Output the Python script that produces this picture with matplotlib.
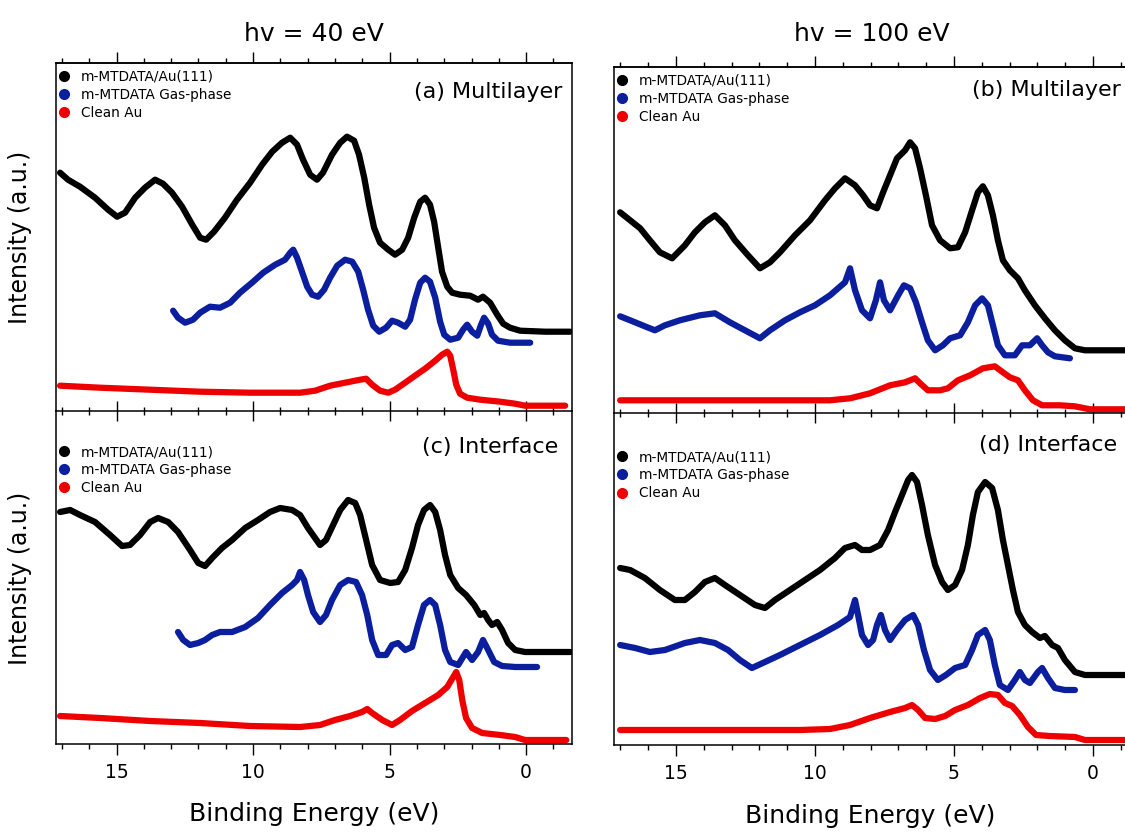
import matplotlib
matplotlib.use("Agg")
import matplotlib.pyplot as plt
from matplotlib.lines import Line2D
from matplotlib.ticker import MultipleLocator, NullFormatter

plt.rcParams['font.family'] = ['DejaVu Sans']

# ---------------- data (binding energy in eV, intensity in a.u.) ----------------
# (a) hv = 40 eV, multilayer
a_film_E = [17.07, 16.78, 16.34, 15.79, 15.31, 14.98, 14.69, 14.32, 13.96, 13.59, 13.30, 12.97, 12.60, 12.23,
            11.94, 11.72, 11.43, 11.03, 10.59, 10.11, 9.67, 9.30, 8.94, 8.64, 8.39, 8.17, 7.91, 7.66, 7.44,
            7.11, 6.81, 6.56, 6.30, 6.12, 5.93, 5.75, 5.57, 5.35, 5.05, 4.80, 4.54, 4.32, 4.10, 3.88, 3.70,
            3.52, 3.37, 3.22, 3.08, 2.89, 2.71, 2.42, 2.05, 1.76, 1.58, 1.32, 1.06, 0.84, 0.59, 0.22, -0.70, -1.61]
a_film_I = [238, 231, 224, 213, 201, 194, 198, 213, 223, 231, 227, 218, 204, 186,
            173, 171, 179, 193, 211, 228, 246, 259, 268, 273, 266, 251, 236, 231, 238,
            256, 268, 274, 270, 256, 233, 206, 183, 168, 161, 156, 161, 173, 193, 209, 213,
            206, 189, 163, 139, 124, 118, 116, 115, 111, 114, 108, 96, 87, 83, 80, 79, 79]
a_gas_E = [12.93, 12.75, 12.49, 12.20, 11.94, 11.58, 11.21, 10.84, 10.48, 10.04, 9.63, 9.19, 8.83, 8.64, 8.53,
           8.39, 8.21, 8.02, 7.84, 7.62, 7.40, 7.18, 6.92, 6.63, 6.37, 6.15, 5.97, 5.79, 5.60, 5.38, 5.13,
           4.91, 4.69, 4.43, 4.25, 4.07, 3.88, 3.70, 3.52, 3.33, 3.15, 3.00, 2.78, 2.49, 2.31, 2.16, 1.98,
           1.79, 1.65, 1.54, 1.39, 1.25, 1.03, 0.59, -0.15]
a_gas_I = [100, 93, 88, 91, 98, 104, 103, 108, 118, 128, 138, 146, 151, 158, 161,
           153, 139, 124, 116, 114, 121, 133, 145, 151, 149, 139, 121, 101, 85, 79, 83,
           90, 88, 84, 91, 111, 128, 133, 129, 113, 89, 76, 71, 73, 81, 86, 79,
           75, 86, 93, 87, 76, 70, 68, 68]
a_au_E = [17.07, 15.60, 13.77, 11.94, 10.11, 8.28, 7.73, 7.18, 6.63, 6.08, 5.86, 5.64, 5.35, 5.05, 4.80,
          4.43, 4.07, 3.70, 3.33, 3.08, 2.89, 2.78, 2.67, 2.56, 2.42, 2.16, 1.68, 0.95, 0.40, 0.04, -1.43]
a_au_I = [25, 23, 21, 19, 18, 18, 20, 25, 28, 31, 32, 26, 20, 18, 21,
          28, 35, 42, 50, 56, 59, 55, 41, 26, 17, 13, 11, 9, 7, 5, 5]

# (b) hv = 100 eV, multilayer
b_film_E = [17.01, 16.65, 16.29, 15.94, 15.58, 15.14, 14.68, 14.32, 13.96, 13.60, 13.24, 12.88, 12.41, 11.98,
            11.62, 11.26, 10.72, 10.18, 9.64, 9.28, 8.92, 8.56, 8.27, 8.02, 7.77, 7.55, 7.30, 7.05, 6.76,
            6.58, 6.40, 6.22, 6.01, 5.79, 5.50, 5.14, 4.86, 4.60, 4.35, 4.14, 3.96, 3.78, 3.60, 3.42, 3.24,
            2.99, 2.70, 2.45, 2.09, 1.73, 1.37, 1.01, 0.65, 0.29, -1.45]
b_film_I = [201, 193, 185, 173, 161, 155, 168, 181, 191, 198, 188, 173, 158, 145,
            151, 161, 178, 193, 213, 225, 235, 228, 218, 208, 205, 221, 238, 255, 263,
            271, 265, 245, 218, 188, 173, 165, 166, 181, 203, 221, 227, 218, 198, 173, 153,
            143, 135, 123, 108, 95, 83, 73, 65, 63, 63]
b_gas_E = [17.01, 16.65, 16.12, 15.76, 15.40, 14.86, 14.14, 13.60, 13.06, 12.52, 11.98, 11.62, 11.08, 10.54,
           10.00, 9.46, 8.92, 8.74, 8.56, 8.31, 8.02, 7.81, 7.66, 7.52, 7.30, 7.01, 6.80, 6.58, 6.37,
           6.15, 5.94, 5.68, 5.40, 5.14, 4.78, 4.50, 4.24, 3.99, 3.78, 3.60, 3.42, 3.17, 2.81, 2.55,
           2.27, 2.01, 1.83, 1.62, 1.37, 0.83]
b_gas_I = [97, 93, 87, 83, 88, 93, 98, 100, 91, 83, 75, 83, 93, 101,
           108, 118, 131, 145, 123, 103, 95, 113, 131, 113, 103, 118, 128, 125, 111,
           91, 73, 63, 68, 75, 78, 91, 108, 115, 108, 88, 68, 58, 58, 68,
           68, 75, 68, 61, 57, 55]
b_au_E = [17.01, 14.14, 10.54, 9.46, 8.74, 8.02, 7.30, 6.76, 6.40, 6.22, 5.94, 5.50, 5.22, 4.86, 4.42,
          3.96, 3.53, 3.24, 2.99, 2.70, 2.45, 2.16, 1.83, 1.19, 0.65, 0.11, -1.45]
b_au_I = [13, 13, 13, 13, 15, 20, 28, 31, 35, 30, 23, 23, 25, 33, 38,
          45, 47, 41, 36, 33, 23, 13, 8, 8, 7, 4, 4]

# (c) hv = 40 eV, interface
c_film_E = [17.07, 16.70, 16.34, 15.79, 15.24, 14.80, 14.51, 14.14, 13.77, 13.48, 13.11, 12.75, 12.31, 12.01,
            11.76, 11.50, 11.14, 10.77, 10.29, 9.82, 9.38, 9.01, 8.57, 8.28, 7.99, 7.73, 7.55, 7.33, 7.07,
            6.81, 6.52, 6.26, 6.08, 5.86, 5.64, 5.35, 4.98, 4.69, 4.43, 4.18, 3.96, 3.74, 3.52, 3.33, 3.15,
            2.97, 2.78, 2.49, 2.20, 1.90, 1.68, 1.54, 1.39, 1.25, 1.06, 0.88, 0.66, 0.40, 0.04, -0.70, -1.61]
c_film_I = [232, 234, 229, 222, 209, 198, 199, 209, 222, 226, 222, 212, 194, 181,
            178, 186, 196, 204, 216, 224, 232, 236, 234, 229, 216, 206, 199, 204, 219,
            234, 244, 241, 229, 204, 179, 164, 161, 162, 174, 196, 219, 234, 239, 232, 214,
            189, 169, 156, 149, 139, 129, 131, 124, 119, 122, 114, 101, 94, 92, 92, 92]
c_gas_E = [12.75, 12.56, 12.31, 12.01, 11.76, 11.50, 11.21, 10.77, 10.29, 9.82, 9.38, 8.94, 8.57, 8.39, 8.28,
           8.13, 7.99, 7.80, 7.55, 7.33, 7.11, 6.81, 6.52, 6.23, 6.01, 5.82, 5.64, 5.42, 5.13, 4.91, 4.69,
           4.43, 4.18, 3.96, 3.74, 3.52, 3.33, 3.15, 2.97, 2.78, 2.49, 2.20, 1.98, 1.76, 1.58, 1.39, 1.17,
           0.88, 0.40, -0.40]
c_gas_I = [112, 104, 99, 101, 104, 109, 112, 112, 117, 126, 139, 151, 159, 164, 172,
           164, 149, 132, 122, 129, 144, 159, 164, 162, 149, 129, 104, 89, 89, 99, 101,
           94, 97, 119, 139, 144, 139, 119, 94, 82, 79, 92, 84, 92, 104, 94, 82,
           78, 77, 77]
c_au_E = [17.07, 15.60, 13.77, 11.94, 10.11, 8.28, 7.55, 7.00, 6.45, 6.01, 5.82, 5.64, 5.27, 4.91, 4.62,
          4.18, 3.70, 3.22, 2.89, 2.67, 2.56, 2.45, 2.34, 2.20, 1.98, 1.61, 0.95, 0.40, 0.04, -1.47]
c_au_I = [28, 26, 23, 21, 18, 17, 19, 24, 28, 32, 35, 31, 24, 19, 24,
          33, 41, 49, 57, 67, 72, 64, 44, 26, 16, 11, 9, 7, 4, 4]

# (d) hv = 100 eV, interface
d_film_E = [17.01, 16.65, 16.12, 15.58, 15.04, 14.68, 14.32, 13.96, 13.60, 13.24, 12.70, 12.16, 11.80, 11.44,
            10.90, 10.36, 9.82, 9.28, 8.92, 8.56, 8.31, 8.02, 7.66, 7.37, 7.12, 6.87, 6.65, 6.51, 6.33,
            6.15, 5.94, 5.68, 5.43, 5.22, 4.96, 4.71, 4.50, 4.32, 4.14, 3.88, 3.63, 3.42, 3.24, 3.06, 2.88,
            2.70, 2.45, 2.19, 1.91, 1.73, 1.47, 1.26, 1.01, 0.65, 0.29, -1.45]
d_film_I = [177, 175, 167, 155, 145, 145, 153, 163, 167, 160, 150, 140, 137, 145,
            155, 165, 175, 187, 197, 200, 195, 195, 200, 215, 233, 250, 265, 270, 263,
            240, 210, 180, 163, 155, 160, 175, 200, 230, 253, 263, 257, 235, 205, 180, 155,
            133, 120, 113, 107, 109, 100, 97, 85, 73, 70, 70]
d_gas_E = [17.01, 16.47, 15.94, 15.40, 14.68, 14.14, 13.60, 13.13, 12.70, 12.27, 11.80, 11.26, 10.54, 9.82,
           9.17, 8.74, 8.56, 8.45, 8.31, 8.09, 7.91, 7.77, 7.63, 7.48, 7.30, 7.05, 6.76, 6.47, 6.29,
           6.08, 5.86, 5.58, 5.29, 4.96, 4.60, 4.35, 4.14, 3.88, 3.71, 3.53, 3.35, 3.06, 2.81, 2.63,
           2.45, 2.27, 1.98, 1.83, 1.62, 1.37, 1.01, 0.65]
d_gas_I = [100, 97, 93, 95, 102, 105, 102, 95, 85, 77, 83, 90, 100, 110,
           120, 128, 145, 130, 110, 100, 105, 120, 130, 115, 105, 115, 125, 130, 120,
           95, 75, 65, 70, 77, 80, 95, 110, 115, 105, 80, 60, 55, 65, 73,
           65, 62, 73, 77, 67, 57, 55, 55]
d_au_E = [17.01, 14.14, 10.54, 9.46, 8.74, 8.02, 7.30, 6.76, 6.51, 6.29, 6.04, 5.68, 5.32, 4.96, 4.50,
          4.06, 3.71, 3.42, 3.17, 2.91, 2.63, 2.34, 2.05, 1.55, 0.65, 0.29, -1.45]
d_au_I = [15, 15, 15, 16, 20, 27, 33, 37, 40, 35, 27, 26, 29, 35, 40,
          47, 51, 50, 42, 39, 30, 18, 10, 9, 8, 5, 5]

series_labels = ["m-MTDATA/Au(111)", "m-MTDATA Gas-phase", "Clean Au"]
panel_titles = ["(a) Multilayer", "(b) Multilayer", "(c) Interface", "(d) Interface"]
column_titles = ["hv = 40 eV", "hv = 100 eV"]
x_label = "Binding Energy (eV)"
y_label = "Intensity (a.u.)"
energy_range = (17.23, -1.68)

COLORS = ["#000000", "#0A1E9E", "#EE0000"]

# ---------------- figure ----------------
W, H = 1125, 834
fig = plt.figure(figsize=(W / 100, H / 100), dpi=100)
fig.patch.set_facecolor("white")


def box(l, t, r, b):
    return [l / W, 1 - b / H, (r - l) / W, (b - t) / H]


panels = [
    dict(rect=box(55.7, 63, 572, 410.7), ytop=347.7, data=[(a_film_E, a_film_I), (a_gas_E, a_gas_I), (a_au_E, a_au_I)],
         upper=True, leg=(0.0025, 0.980), lab=(0.981, 0.917)),
    dict(rect=box(614, 67, 1139.7, 413.3), ytop=346.3, data=[(b_film_E, b_film_I), (b_gas_E, b_gas_I), (b_au_E, b_au_I)],
         upper=True, leg=(0.002, 0.980), lab=(0.964, 0.934)),
    dict(rect=box(55.7, 410.7, 572, 744), ytop=333.3, data=[(c_film_E, c_film_I), (c_gas_E, c_gas_I), (c_au_E, c_au_I)],
         upper=False, leg=(0.0025, 0.897), lab=(0.973, 0.892)),
    dict(rect=box(614, 413.3, 1139.7, 745), ytop=331.7, data=[(d_film_E, d_film_I), (d_gas_E, d_gas_I), (d_au_E, d_au_I)],
         upper=False, leg=(0.002, 0.889), lab=(0.957, 0.903)),
]

for k, p in enumerate(panels):
    ax = fig.add_axes(p["rect"])
    ax.patch.set_visible(False)
    ax.set_zorder(2 if p["upper"] else 1)
    for (E, I), c in zip(p["data"][::-1], COLORS[::-1]):
        ax.plot(E, I, color=c, lw=4.5, solid_capstyle="round", solid_joinstyle="round")
    ax.set_xlim(*energy_range)
    ax.set_ylim(0, p["ytop"])
    ax.set_yticks([])
    ax.xaxis.set_major_locator(MultipleLocator(5))
    ax.xaxis.set_minor_locator(MultipleLocator(1))
    for s in ax.spines.values():
        s.set_linewidth(1.1)
    if p["upper"]:
        ax.tick_params(axis="x", which="major", direction="inout", length=15, width=1.0, labelbottom=False)
        ax.tick_params(axis="x", which="minor", direction="inout", length=6.3, width=1.0)
        sec = ax.secondary_xaxis("top")
        sec.xaxis.set_major_locator(MultipleLocator(5))
        sec.xaxis.set_minor_locator(MultipleLocator(1))
        sec.xaxis.set_major_formatter(NullFormatter())
        sec.tick_params(which="major", direction="out", length=7.8, width=1.0)
        sec.tick_params(which="minor", direction="out", length=3.8, width=1.0)
        sec.spines["top"].set_linewidth(1.1)
    else:
        ax.spines["top"].set_visible(False)
        ax.tick_params(axis="x", which="major", direction="out", length=8, width=1.0, labelsize=13.5, pad=6)
        ax.tick_params(axis="x", which="minor", direction="out", length=3.8, width=1.0)
    handles = [Line2D([], [], marker="o", ls="none", color=c, markersize=7) for c in COLORS]
    ax.legend(handles, series_labels, loc="upper left", bbox_to_anchor=p["leg"], frameon=False, fontsize=9.8,
              handlelength=1.0, handletextpad=0.75, labelspacing=0.3, borderaxespad=0, borderpad=0)
    ax.text(p["lab"][0], p["lab"][1], panel_titles[k], transform=ax.transAxes, ha="right", va="center", fontsize=16)

# column titles, axis labels
fig.text(314 / W, 1 - 41 / H, column_titles[0], ha="center", va="baseline", fontsize=18)
fig.text(872 / W, 1 - 41 / H, column_titles[1], ha="center", va="baseline", fontsize=18)
fig.text(314 / W, 1 - 821 / H, x_label, ha="center", va="baseline", fontsize=18)
fig.text(870 / W, 1 - 823 / H, x_label, ha="center", va="baseline", fontsize=18)
fig.text(20 / W, 1 - 237 / H, y_label, ha="center", va="center", rotation=90, fontsize=17)
fig.text(20 / W, 1 - 578 / H, y_label, ha="center", va="center", rotation=90, fontsize=17)

fig.savefig("out.png", dpi=100)
